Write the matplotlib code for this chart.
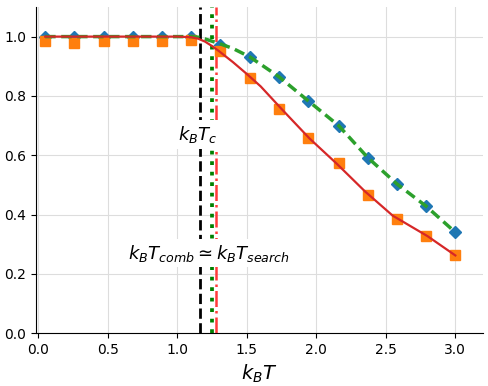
import numpy as np
import matplotlib
matplotlib.use("Agg")
import matplotlib.pyplot as plt

# data
T_points = [0.05, 0.26, 0.47, 0.68, 0.89, 1.10, 1.31, 1.52, 1.73, 1.94, 2.16, 2.37, 2.58, 2.79, 3.00]
blue_vals = [1.0, 1.0, 1.0, 1.0, 1.0, 1.0, 0.973, 0.932, 0.865, 0.784, 0.700, 0.591, 0.503, 0.429, 0.341]
orange_vals = [0.985, 0.980, 0.985, 0.985, 0.985, 0.990, 0.952, 0.861, 0.757, 0.659, 0.574, 0.466, 0.385, 0.328, 0.264]

red_T = [0.05, 0.5, 1.0, 1.1, 1.15, 1.2, 1.25, 1.3, 1.4, 1.5, 1.6, 1.75, 1.95, 2.15, 2.35, 2.55, 2.8, 3.0]
red_vals = [1.0, 1.0, 1.0, 0.998, 0.993, 0.983, 0.968, 0.951, 0.914, 0.874, 0.832, 0.756, 0.657, 0.570, 0.478, 0.396, 0.327, 0.262]

green_T = [0.05, 0.5, 1.0, 1.1, 1.15, 1.2, 1.3, 1.4, 1.52, 1.73, 1.94, 2.16, 2.37, 2.58, 2.79, 3.0]
green_vals = [1.0, 1.0, 1.0, 1.0, 0.998, 0.992, 0.977, 0.960, 0.932, 0.865, 0.784, 0.700, 0.592, 0.503, 0.428, 0.340]

T_c = 1.165
T_search = 1.252
T_comb = 1.275

fig = plt.figure(figsize=(4.89, 3.86), dpi=100)
ax = fig.add_axes([0.074, 0.137, 0.914, 0.845])

ax.plot(T_points, blue_vals, 'D', color='#1f77b4', markersize=6.5, zorder=3)
ax.plot(T_points, orange_vals, 's', color='#ff7f0e', markersize=7, zorder=3)
ax.plot(green_T, green_vals, '--', color='#2ca02c', lw=2.5, dashes=(3, 1.6), zorder=4)
ax.plot(red_T, red_vals, '-', color='#d62728', lw=1.6, zorder=4.5)

ax.axvline(T_c, color='black', ls='--', lw=2, zorder=2)
ax.axvline(T_comb, color='#ff3b3b', ls='-.', lw=1.8, zorder=2)
ax.axvline(T_search, color='green', lw=2.7, dashes=(1.0, 1.8), zorder=2.1)

ax.text(1.15, 0.67, r'$k_BT_c$', fontsize=13, ha='center', va='center', zorder=5,
        bbox=dict(facecolor='white', edgecolor='none', boxstyle='square,pad=0.2'))
ax.text(1.23, 0.27, r'$k_BT_{comb} \simeq k_BT_{search}$', fontsize=13, ha='center', va='center', zorder=5,
        bbox=dict(facecolor='white', edgecolor='none', boxstyle='square,pad=0.2'))

ax.set_xlim(-0.015, 3.2)
ax.set_ylim(0, 1.1)
ax.set_xticks([0.0, 0.5, 1.0, 1.5, 2.0, 2.5, 3.0])
ax.set_yticks([0.0, 0.2, 0.4, 0.6, 0.8, 1.0])
ax.tick_params(labelsize=10)
ax.grid(True, color='#dddddd', lw=0.8, zorder=0)
ax.set_axisbelow(True)
ax.spines['top'].set_visible(False)
ax.spines['right'].set_visible(False)
ax.set_xlabel(r'$k_BT$', fontsize=14)

fig.savefig('out.png', dpi=100)
